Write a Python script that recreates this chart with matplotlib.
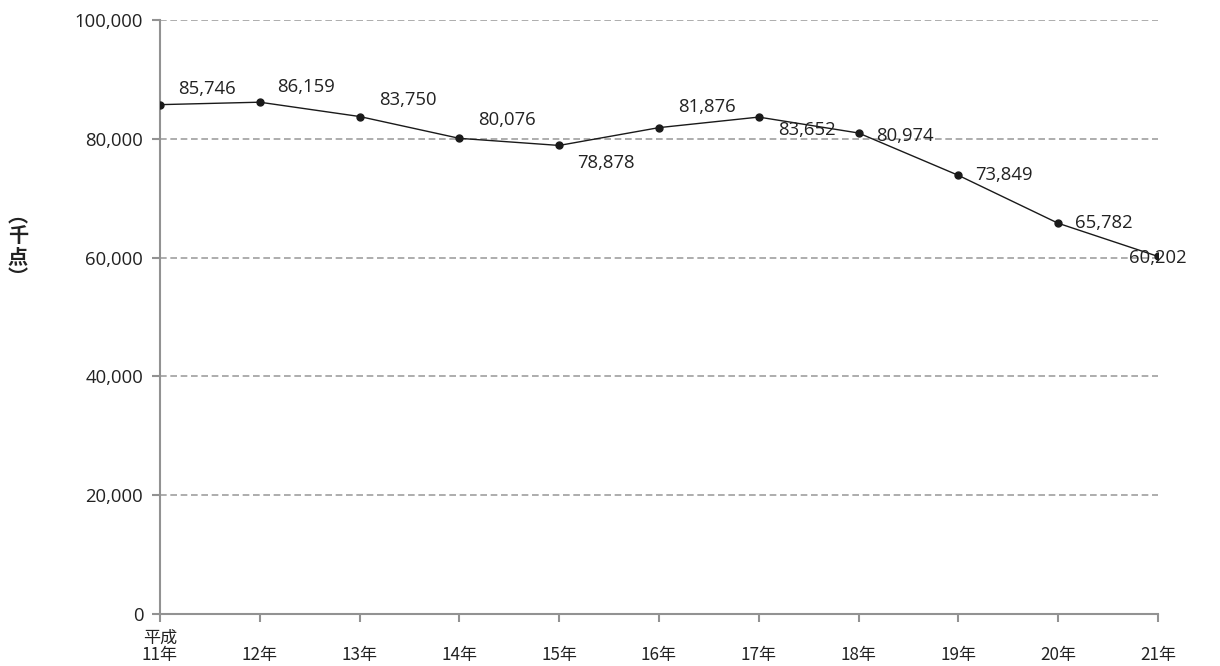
import matplotlib
matplotlib.use('Agg')
import matplotlib.pyplot as plt

plt.rcParams['font.family'] = ['Open Sans', 'Noto Sans CJK JP', 'DejaVu Sans']

# 年次と値（千点）
era = '平成'
years = ['11年', '12年', '13年', '14年', '15年', '16年',
         '17年', '18年', '19年', '20年', '21年']
values = [85746, 86159, 83750, 80076, 78878, 81876,
          83652, 80974, 73849, 65782, 60202]
yticks = [0, 20000, 40000, 60000, 80000, 100000]

# ラベル位置のずらし量（ピクセル）
label_offsets = [(47, 16), (46, 15), (48, 17), (48, 18), (47, -18), (48, 21),
                 (48, -13), (46, -3), (46, 0), (46, 0), (0, -2)]

fig = plt.figure(figsize=(12.2, 6.66), dpi=100)
ax = fig.add_axes([0.1311, 0.0781, 0.8180, 0.8919])

x = list(range(len(years)))
ax.plot(x, values, color='#1a1a1a', linewidth=1.0, marker='o',
        markersize=5, zorder=3)

for xi, v, (dx, dy) in zip(x, values, label_offsets):
    ax.annotate(f'{v:,}', (xi, v), xytext=(dx, dy), textcoords='offset pixels',
                ha='center', va='center', fontsize=13.3, color='#222222',
                zorder=4)

ax.set_xlim(0, len(years) - 1)
ax.set_ylim(0, 100000)
ax.set_yticks(yticks)
ax.set_yticklabels([f'{t:,}' for t in yticks], fontsize=13.3, color='#222222')
ax.set_xticks(x)
xlabels = [f'{era}\n{years[0]}'] + [f'\n{y}' for y in years[1:]]
ax.set_xticklabels(xlabels, fontsize=12.3, color='#222222', linespacing=0.95,
                   family=['Noto Sans CJK JP'])

ax.grid(axis='y', color='#a0a0a0', linestyle=(0, (4, 2.2)), linewidth=1.2)
ax.set_axisbelow(True)

for side in ['top', 'right']:
    ax.spines[side].set_visible(False)
for side in ['left', 'bottom']:
    ax.spines[side].set_color('#929292')
    ax.spines[side].set_linewidth(1.5)
    ax.spines[side].set_zorder(2)
ax.tick_params(axis='both', color='#929292', width=1.5, length=6)
ax.tick_params(axis='y', pad=6)
ax.tick_params(axis='x', pad=4.5)

# 縦書きの単位ラベル（千点）
fig.text(18 / 1220, 1 - 246 / 666, '︵\n千\n点\n︶', fontsize=14.5,
         fontweight='bold', ha='center', va='center', linespacing=1.0,
         color='#222222', family=['Noto Sans CJK JP'])

fig.savefig('out.png', dpi=100)
